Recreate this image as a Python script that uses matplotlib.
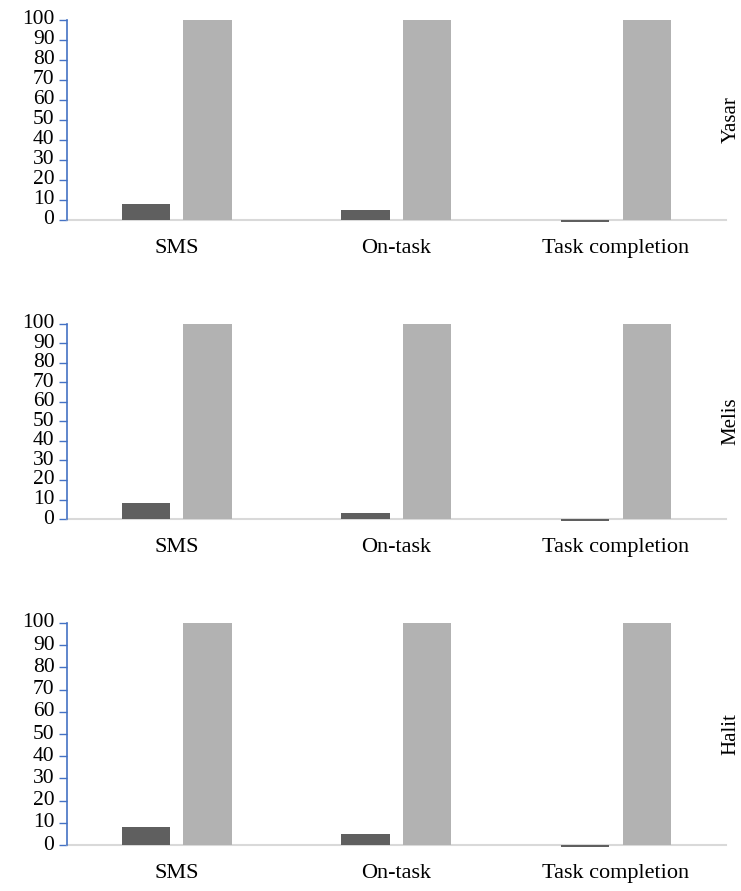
import numpy as np
import matplotlib
matplotlib.use('Agg')
import matplotlib.pyplot as plt

# Datos
categorias = ['SMS', 'On-task', 'Task completion']
personas = ['Yasar', 'Melis', 'Halit']
serie_oscura = {
    'Yasar': [8, 5, -1],
    'Melis': [8, 3, -1],
    'Halit': [8, 5, -1],
}
serie_clara = {
    'Yasar': [100, 100, 100],
    'Melis': [100, 100, 100],
    'Halit': [100, 100, 100],
}
yticks = list(range(0, 101, 10))

plt.rcParams['font.family'] = ['Liberation Serif', 'DejaVu Serif']

fig = plt.figure(figsize=(7.41, 8.91), dpi=100)

# posiciones de los paneles (fracciones de figura)
paneles = [
    [0.0904, 0.7531, 0.889, 0.2245],
    [0.0904, 0.4175, 0.889, 0.2189],
    [0.0904, 0.0516, 0.889, 0.2492],
]

x = np.arange(len(categorias))
ancho = 0.22
desp = 0.14
azul = '#4472C4'

for nombre, pos in zip(personas, paneles):
    ax = fig.add_axes(pos)
    ax.bar(x - desp, serie_oscura[nombre], width=ancho, color='#5f5f5f',
           clip_on=False, zorder=3)
    ax.bar(x + desp, serie_clara[nombre], width=ancho, color='#b2b2b2',
           clip_on=False, zorder=3)
    ax.set_xlim(-0.5, 2.5)
    ax.set_ylim(0, 100)
    ax.set_yticks(yticks)
    ax.set_xticks(x)
    ax.set_xticklabels(categorias)
    ax.tick_params(axis='y', colors=azul, labelcolor='black', length=6,
                   width=1, pad=3, labelsize=15.5, direction='out')
    ax.tick_params(axis='x', length=0, pad=14, labelsize=16)
    for s in ['top', 'right']:
        ax.spines[s].set_visible(False)
    ax.spines['left'].set_color(azul)
    ax.spines['left'].set_linewidth(1.2)
    ax.spines['bottom'].set_color('#d9d9d9')
    ax.spines['bottom'].set_linewidth(1.5)
    ax.spines['bottom'].set_zorder(2)
    for lbl in ax.get_yticklabels():
        lbl.set_verticalalignment('center')
    ax.text(1.008, 0.5, nombre, transform=ax.transAxes, rotation=90,
            ha='center', va='center', fontsize=15)

fig.savefig('out.png', dpi=100)
